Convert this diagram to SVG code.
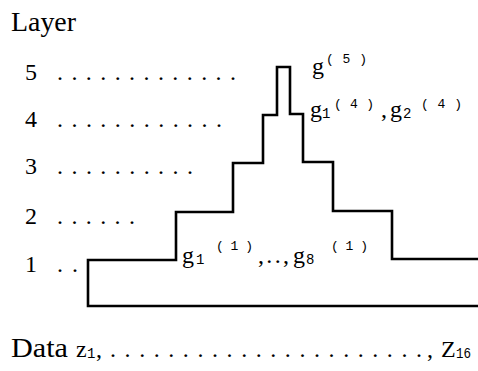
<svg xmlns="http://www.w3.org/2000/svg" width="478" height="371" viewBox="0 0 478 371">
<style>
  text { font-family: "Liberation Serif", "DejaVu Serif", serif; fill: #000; }
  .big { font-size: 27px; }
  .num { font-size: 24px; }
  .dots { font-size: 24px; }
  .g { font-size: 24px; }
  .sup { font-family: "Liberation Mono", "DejaVu Sans Mono", monospace; font-size: 13px; }
  .sub { font-family: "Liberation Mono", "DejaVu Sans Mono", monospace; font-size: 14px; }
  .outline { fill: none; stroke: #000; stroke-width: 2.6; stroke-linejoin: miter; }
</style>
<rect width="478" height="371" fill="#fff"/>
<g id="axis-title">
  <text class="big" x="11" y="31" textLength="65" lengthAdjust="spacingAndGlyphs">Layer</text>
</g>
<g id="layer-rows">
  <text class="num" x="25" y="80">5</text>
  <text class="dots" x="57" y="80" textLength="179" lengthAdjust="spacing">.............</text>
  <text class="num" x="25" y="127">4</text>
  <text class="dots" x="57" y="127" textLength="165" lengthAdjust="spacing">............</text>
  <text class="num" x="25" y="174">3</text>
  <text class="dots" x="57" y="174" textLength="136" lengthAdjust="spacing">..........</text>
  <text class="num" x="25" y="224">2</text>
  <text class="dots" x="57" y="224" textLength="78" lengthAdjust="spacing">......</text>
  <text class="num" x="25" y="272">1</text>
  <text class="dots" x="57" y="272" textLength="21" lengthAdjust="spacing">..</text>
</g>
<g id="pyramid">
  <path class="outline" d="M478,259 H392 V211 H333 V162 H303 V114 H290 V67 H277 V115 H263 V163 H233 V212 H176 V260 H88 V306 H478"/>
</g>
<g id="label-layer5">
  <text class="g" x="312" y="74">g</text>
  <text class="sup" x="326" y="63" textLength="41" lengthAdjust="spacing">( 5 )</text>
</g>
<g id="label-layer4">
  <text class="g" x="310" y="117">g</text>
  <text class="sub" x="322" y="118">1</text>
  <text class="sup" x="334" y="108" textLength="40" lengthAdjust="spacing">( 4 )</text>
  <text class="g" x="381" y="117">,</text>
  <text class="g" x="390" y="117">g</text>
  <text class="sub" x="403" y="118">2</text>
  <text class="sup" x="421" y="108" textLength="41" lengthAdjust="spacing">( 4 )</text>
</g>
<g id="label-layer1">
  <text class="g" x="182" y="263">g</text>
  <text class="sub" x="196" y="264">1</text>
  <text class="sup" x="216" y="250" textLength="37" lengthAdjust="spacing">( 1 )</text>
  <text class="g" x="258" y="263" textLength="31" lengthAdjust="spacing">,..,</text>
  <text class="g" x="293" y="263">g</text>
  <text class="sub" x="306" y="264">8</text>
  <text class="sup" x="331" y="250" textLength="37" lengthAdjust="spacing">( 1 )</text>
</g>
<g id="data-row">
  <text class="big" x="11" y="357" textLength="57" lengthAdjust="spacingAndGlyphs">Data</text>
  <text class="g" x="76" y="357">z</text>
  <text class="sub" x="87" y="358">1</text>
  <text class="g" x="96" y="357">,</text>
  <text class="dots" x="110" y="357" textLength="312" lengthAdjust="spacing">......................</text>
  <text class="g" x="427" y="357">,</text>
  <text class="g" x="441" y="357" font-size="22">Z</text>
  <text class="sub" x="456" y="358" textLength="15" lengthAdjust="spacingAndGlyphs">16</text>
</g>
</svg>
